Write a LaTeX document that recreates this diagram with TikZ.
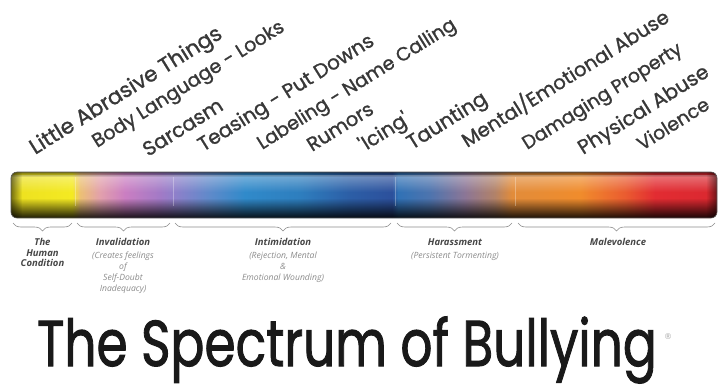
\documentclass[tikz,border=0pt]{standalone}
\usepackage{fontspec}
\setmainfont{Poppins}
\newfontfamily\labfont{Poppins}[FakeBold=1.1]
\newfontfamily\titfont{Poppins}[FakeBold=1.6]
\newfontfamily\capfont{Open Sans}
\newfontfamily\symfont{DejaVu Sans}
\usetikzlibrary{decorations.pathreplacing,fadings}
\definecolor{cA}{HTML}{ECE020}
\definecolor{cB}{HTML}{F4EA22}
\definecolor{cC}{HTML}{ECC074}
\definecolor{cD}{HTML}{E2A0AC}
\definecolor{cE}{HTML}{CA7EC2}
\definecolor{cF}{HTML}{A27AC6}
\definecolor{cG}{HTML}{8E80CA}
\definecolor{cH}{HTML}{5E8ACA}
\definecolor{cI}{HTML}{308ACA}
\definecolor{cJ}{HTML}{2E7EBE}
\definecolor{cK}{HTML}{2C5EA6}
\definecolor{cL}{HTML}{2C509C}
\definecolor{cM}{HTML}{3072B6}
\definecolor{cN}{HTML}{4E74AE}
\definecolor{cO}{HTML}{8C7696}
\definecolor{cP}{HTML}{B28268}
\definecolor{cQ}{HTML}{E28C3A}
\definecolor{cR}{HTML}{F08C2C}
\definecolor{cS}{HTML}{EA5C30}
\definecolor{cT}{HTML}{E22C32}
\definecolor{cU}{HTML}{DA2830}
\newcommand\fitw[2]{\resizebox{#1pt}{!}{#2}}
\begin{document}
\begin{tikzpicture}[x=1pt,y=-1pt,
  spec/.style={font=\labfont\fontsize{20}{20}\selectfont, anchor=base west, rotate=32, inner sep=0pt, text=black!78},
  cat/.style={font=\capfont\bfseries\itshape\fontsize{9.5}{10.5}\selectfont, text=black!72, align=center, inner sep=0pt, anchor=north},
  note/.style={font=\capfont\itshape\fontsize{8.6}{11}\selectfont, text=black!45, align=center, inner sep=0pt, anchor=north},
  bracestyle/.style={draw=black!45, line width=0.6pt, decorate, decoration={brace,mirror,amplitude=8pt}},
  seam/.style={white, opacity=0.3, line width=1pt},
]
\useasboundingbox[fill=white] (0,0) rectangle (719,389);

% rotated behaviour labels
\node[spec] (l1) at (35,155) {\fitw{222}{Little Abrasive Things}};
\node[spec] (l2) at (97,148) {\fitw{222}{Body Language - Looks}};
\node[spec] (l3) at (148,157) {\fitw{90}{Sarcasm}};
\node[spec] (l4) at (203,152) {\fitw{203}{Teasing - Put Downs}};
\node[spec] (l5) at (262,150) {\fitw{230}{Labeling - Name Calling}};
\node[spec] (l6) at (312,152) {\fitw{74}{Rumors}};
\node[spec] (l7) at (364,152) {\textquotesingle Icing\textquotesingle};
\node[spec] (l8) at (412,150) {\fitw{90}{Taunting}};
\node[spec] (l9) at (467,148) {\fitw{240}{Mental/Emotional Abuse}};
\node[spec] (l10) at (527,150) {\fitw{184}{Damaging Property}};
\node[spec] (l11) at (583,155) {\fitw{150}{Physical Abuse}};
\node[spec] (l12) at (642,151) {\fitw{81}{Violence}};

% spectrum bar
\coordinate (barNW) at (11,172);
\coordinate (barSE) at (717,218);
\begin{scope}
\clip[rounded corners=6pt] (barNW) rectangle (barSE);
\shade[left color=cA, right color=cB] (11,172) rectangle (72,218);
\shade[left color=cB, right color=cC] (72,172) rectangle (80,218);
\shade[left color=cC, right color=cD] (80,172) rectangle (100,218);
\shade[left color=cD, right color=cE] (100,172) rectangle (125,218);
\shade[left color=cE, right color=cF] (125,172) rectangle (160,218);
\shade[left color=cF, right color=cG] (160,172) rectangle (175,218);
\shade[left color=cG, right color=cH] (175,172) rectangle (210,218);
\shade[left color=cH, right color=cI] (210,172) rectangle (245,218);
\shade[left color=cI, right color=cJ] (245,172) rectangle (300,218);
\shade[left color=cJ, right color=cK] (300,172) rectangle (350,218);
\shade[left color=cK, right color=cL] (350,172) rectangle (392,218);
\shade[left color=cL, right color=cM] (392,172) rectangle (398,218);
\shade[left color=cM, right color=cN] (398,172) rectangle (430,218);
\shade[left color=cN, right color=cO] (430,172) rectangle (465,218);
\shade[left color=cO, right color=cP] (465,172) rectangle (495,218);
\shade[left color=cP, right color=cQ] (495,172) rectangle (512,218);
\shade[left color=cQ, right color=cR] (512,172) rectangle (580,218);
\shade[left color=cR, right color=cS] (580,172) rectangle (625,218);
\shade[left color=cS, right color=cT] (625,172) rectangle (655,218);
\shade[left color=cT, right color=cU] (655,172) rectangle (717,218);
\fill[white, opacity=0.35, path fading=south] (11,175) rectangle (717,192);
\fill[black, opacity=0.88, path fading=north] (11,198) rectangle (717,218);
\fill[black, opacity=0.5, path fading=south] (11,172) rectangle (717,177);
\fill[black, opacity=0.5, path fading=east] (11,172) rectangle (22,218);
\fill[black, opacity=0.5, path fading=west] (706,172) rectangle (717,218);
\draw[seam] (75,177) -- (75,206);
\draw[seam] (173,177) -- (173,206);
\draw[seam] (395,177) -- (395,206);
\draw[seam] (515,177) -- (515,206);
\end{scope}
\draw[black!65, line width=0.6pt, rounded corners=6pt] (barNW) rectangle (barSE);

% braces
\coordinate (b1a) at (13,223);  \coordinate (b1b) at (72,223);
\coordinate (b2a) at (77,223);  \coordinate (b2b) at (170,223);
\coordinate (b3a) at (175,223); \coordinate (b3b) at (391,223);
\coordinate (b4a) at (397,223); \coordinate (b4b) at (512,223);
\coordinate (b5a) at (518,223); \coordinate (b5b) at (715,223);
\draw[bracestyle] (b1a) -- (b1b);
\draw[bracestyle] (b2a) -- (b2b);
\draw[bracestyle] (b3a) -- (b3b);
\draw[bracestyle] (b4a) -- (b4b);
\draw[bracestyle] (b5a) -- (b5b);

% category labels
\node[cat] (k1) at (42.5,238.5) {The\\Human\\Condition};
\node[cat] (k2) at (123,238.5) {Invalidation};
\node[note] (n2) at (123,252) {(Creates feelings\\of\\Self-Doubt\\Inadequacy)};
\node[cat] (k3) at (283,238.5) {Intimidation};
\node[note] (n3) at (283,252) {(Rejection, Mental\\\&\\Emotional Wounding)};
\node[cat] (k4) at (455,238.5) {Harassment};
\node[note] (n4) at (455,252) {(Persistent Tormenting)};
\node[cat] (k5) at (618,238.5) {Malevolence};

% title
\node[anchor=base, inner sep=0pt, text=black!90] (title) at (347,366)
  {\scalebox{0.93}[1.2]{\titfont\fontsize{54}{54}\selectfont The Spectrum of Bullying}};
\node[font=\symfont\fontsize{8}{8}\selectfont, text=black!35, inner sep=0pt] (reg) at (668,337) {®};
\end{tikzpicture}
\end{document}
